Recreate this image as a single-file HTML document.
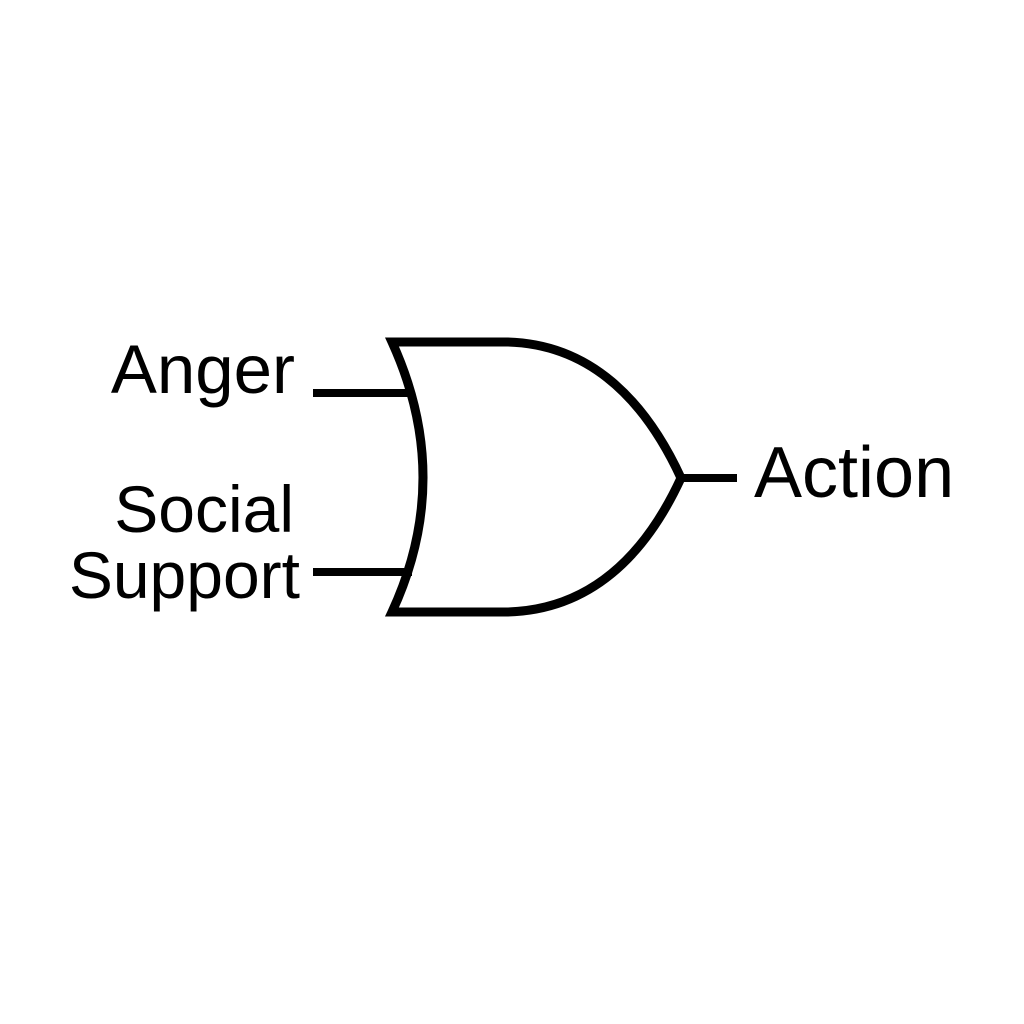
<!DOCTYPE html>
<html><head><style>
body{margin:0;background:#fff;width:1024px;height:1024px;overflow:hidden}
svg{position:absolute;left:0;top:0}
text{font-family:"Liberation Sans",sans-serif;font-size:69px;fill:#000}
</style></head><body>
<svg width="1024" height="1024" viewBox="0 0 1024 1024">
<g fill="none" stroke="#000" stroke-width="9">
<path d="M392,342 L507,342 C590,344 645,400 681,478 C645,556 590,610 507,612 L392,612 Q454,478 392,342 Z" stroke-linejoin="miter"/>
</g>
<g stroke="#000" stroke-width="8">
<line x1="313" y1="393" x2="413" y2="393"/>
<line x1="313" y1="572" x2="412" y2="572"/>
<line x1="680" y1="478" x2="737" y2="478"/>
</g>
<text x="295" y="393" text-anchor="end">Anger</text>
<text x="294" y="532" text-anchor="end" style="font-size:66px">Social</text>
<text x="300" y="598" text-anchor="end" style="font-size:66px">Support</text>
<text x="754" y="497" style="font-size:72px">Action</text>
</svg>
</body></html>
